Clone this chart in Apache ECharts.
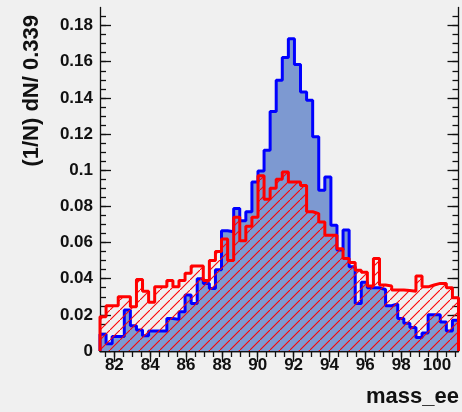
<!DOCTYPE html>
<html>
<head>
<meta charset="utf-8">
<script src="https://cdn.jsdelivr.net/npm/echarts@6/dist/echarts.min.js"></script>
<style>
  html, body { margin: 0; padding: 0; background: #f0f0f0; }
  #chart { width: 462px; height: 412px; }
</style>
</head>
<body>
<div id="chart"></div>
<script>
// Histogram range and binning (59 bins of 0.339 in mass_ee)
const massLo = 81.2;
const massHi = 101.2;

// Normalised bin contents, (1/N) dN / 0.339
const blueHist = [
  0.0092, 0.0040, 0.0080, 0.0080, 0.0227, 0.0140, 0.0116, 0.0085, 0.0110, 0.0110,
  0.0110, 0.0180, 0.0175, 0.0217, 0.0310, 0.0263, 0.0400, 0.0374, 0.0346, 0.0450,
  0.0665, 0.0660, 0.0788, 0.0720, 0.0770, 0.0935, 0.0995, 0.1110, 0.1325, 0.1497,
  0.1624, 0.1727, 0.1585, 0.1433, 0.1387, 0.1185, 0.0889, 0.0963, 0.0696, 0.0558,
  0.0669, 0.0466, 0.0263, 0.0380, 0.0350, 0.0350, 0.0340, 0.0250, 0.0260, 0.0180,
  0.0153, 0.0130, 0.0075, 0.0100, 0.0200, 0.0200, 0.0160, 0.0110, 0.0170
];
const redHist = [
  0.0190, 0.0250, 0.0250, 0.0300, 0.0300, 0.0245, 0.0396, 0.0330, 0.0270, 0.0355,
  0.0355, 0.0390, 0.0355, 0.0390, 0.0430, 0.0470, 0.0470, 0.0390, 0.0500, 0.0550,
  0.0620, 0.0500, 0.0740, 0.0610, 0.0690, 0.0740, 0.0970, 0.0840, 0.0900, 0.0950,
  0.0990, 0.0935, 0.0935, 0.0915, 0.0770, 0.0760, 0.0714, 0.0640, 0.0640, 0.0565,
  0.0512, 0.0490, 0.0447, 0.0435, 0.0360, 0.0512, 0.0365, 0.0360, 0.0337, 0.0337,
  0.0335, 0.0330, 0.0415, 0.0355, 0.0365, 0.0374, 0.0374, 0.0350, 0.0295
];

// Axis tick values
const xMajorTicks = [82, 84, 86, 88, 90, 92, 94, 96, 98, 100];
const yMajorTicks = [0, 0.02, 0.04, 0.06, 0.08, 0.1, 0.12, 0.14, 0.16, 0.18];
const yMax = 0.19;

const xMinorTicks = [];
for (let v = 81.5; v <= 101.0001; v += 0.5) xMinorTicks.push(+v.toFixed(1));
const yMinorTicks = [];
for (let k = 1; k <= 37; k++) yMinorTicks.push(+(k * 0.005).toFixed(3));

// Turn bin contents into a closed step outline starting and ending on zero
function histOutline(vals) {
  const w = (massHi - massLo) / vals.length;
  const pts = [[massLo, 0]];
  vals.forEach((v, i) => pts.push([massLo + i * w, v]));
  pts.push([massHi, vals[vals.length - 1]]);
  pts.push([massHi, 0]);
  return pts;
}

// Diagonal red hatching tile (10 px repeat)
const hatchSvg = "data:image/svg+xml;charset=utf-8," + encodeURIComponent(
  "<svg xmlns='http://www.w3.org/2000/svg' width='10' height='10'>" +
  "<path d='M-2 12 L12 -2' stroke='#ff0000' stroke-width='1.1' fill='none'/>" +
  "</svg>");

const axisColor = '#111';
const labelFont = { fontFamily: 'Liberation Sans', fontWeight: 'bold', fontSize: 17, color: '#111' };
const titleFont = { fontFamily: 'Liberation Sans', fontWeight: 'bold', fontSize: 22, fill: '#111' };

function xAxisDef(position, ticks, len, withLine, withLabels) {
  return {
    type: 'value', min: massLo, max: massHi, position: position,
    axisLine: { show: withLine, lineStyle: { color: axisColor, width: 1.3 } },
    axisTick: { show: true, inside: true, length: len, customValues: ticks,
                lineStyle: { color: axisColor, width: 1.3 } },
    axisLabel: withLabels
      ? Object.assign({ show: true, customValues: ticks, margin: 6 }, labelFont)
      : { show: false },
    splitLine: { show: false }
  };
}
function yAxisDef(position, ticks, len, withLine, withLabels) {
  return {
    type: 'value', min: 0, max: yMax, position: position,
    axisLine: { show: withLine, lineStyle: { color: axisColor, width: 1.3 } },
    axisTick: { show: true, inside: true, length: len, customValues: ticks,
                lineStyle: { color: axisColor, width: 1.3 } },
    axisLabel: withLabels
      ? Object.assign({ show: true, customValues: ticks, margin: 7 }, labelFont)
      : { show: false },
    splitLine: { show: false }
  };
}

const chart = echarts.init(document.getElementById('chart'), null, { renderer: 'canvas' });
chart.setOption({
  animation: false,
  backgroundColor: '#f0f0f0',
  grid: { left: 100, right: 3.5, top: 7.5, bottom: 61, containLabel: false },
  xAxis: [
    xAxisDef('bottom', xMajorTicks, 11, true, true),
    xAxisDef('bottom', xMinorTicks, 6, false, false),
    xAxisDef('top', xMajorTicks, 11, true, false),
    xAxisDef('top', xMinorTicks, 6, false, false)
  ],
  yAxis: [
    yAxisDef('left', yMajorTicks, 11, true, true),
    yAxisDef('left', yMinorTicks, 6, false, false),
    yAxisDef('right', yMajorTicks, 11, true, false),
    yAxisDef('right', yMinorTicks, 6, false, false)
  ],
  series: [
    {
      type: 'line', step: 'end', symbol: 'none', xAxisIndex: 0, yAxisIndex: 0,
      data: histOutline(blueHist),
      itemStyle: { color: '#0000ff' },
      lineStyle: { color: '#0000ff', width: 3 },
      areaStyle: { color: '#7d99d1', opacity: 1 },
      z: 2
    },
    {
      type: 'line', step: 'end', symbol: 'none', xAxisIndex: 0, yAxisIndex: 0,
      data: histOutline(redHist),
      itemStyle: { color: '#ff0000' },
      lineStyle: { color: '#ff0000', width: 3 },
      areaStyle: { color: { image: hatchSvg, repeat: 'repeat' }, opacity: 1 },
      z: 3
    }
  ],
  graphic: [
    {
      type: 'text', x: 32, y: 15, rotation: Math.PI / 2,
      style: Object.assign({ text: '(1/N) dN/ 0.339', align: 'right', verticalAlign: 'middle' }, titleFont)
    },
    {
      type: 'text', x: 366, y: 397,
      style: Object.assign({ text: 'mass_ee', align: 'left', verticalAlign: 'middle' }, titleFont)
    }
  ]
});
</script>
</body>
</html>
